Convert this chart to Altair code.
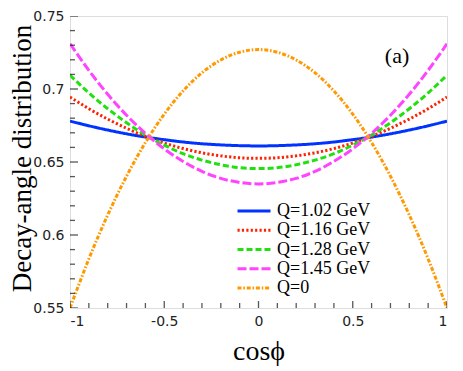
import altair as alt
import pandas as pd

# cos(phi) sample positions
cos_phi = [-1.0, -0.9, -0.8, -0.7, -0.6, -0.5, -0.4, -0.3, -0.2, -0.1, 0.0,
           0.1, 0.2, 0.3, 0.4, 0.5, 0.6, 0.7, 0.8, 0.9, 1.0]

q102 = [0.678, 0.6748, 0.6719, 0.6693, 0.6671, 0.6653, 0.6637, 0.6625, 0.6617, 0.6612, 0.661,
        0.6612, 0.6617, 0.6625, 0.6637, 0.6653, 0.6671, 0.6693, 0.6719, 0.6748, 0.678]
q116 = [0.6945, 0.6865, 0.6794, 0.6731, 0.6676, 0.6630, 0.6592, 0.6563, 0.6542, 0.6529, 0.6525,
        0.6529, 0.6542, 0.6563, 0.6592, 0.6630, 0.6676, 0.6731, 0.6794, 0.6865, 0.6945]
q128 = [0.7095, 0.6973, 0.6865, 0.6769, 0.6685, 0.6615, 0.6557, 0.6513, 0.6481, 0.6461, 0.6455,
        0.6461, 0.6481, 0.6513, 0.6557, 0.6615, 0.6685, 0.6769, 0.6865, 0.6973, 0.7095]
q145 = [0.731, 0.7128, 0.6964, 0.6820, 0.6696, 0.6590, 0.6504, 0.6436, 0.6388, 0.6360, 0.635,
        0.6360, 0.6388, 0.6436, 0.6504, 0.6590, 0.6696, 0.6820, 0.6964, 0.7128, 0.731]
q0 = [0.550, 0.5836, 0.6137, 0.6403, 0.6633, 0.6828, 0.6987, 0.7111, 0.7199, 0.7252, 0.727,
      0.7252, 0.7199, 0.7111, 0.6987, 0.6828, 0.6633, 0.6403, 0.6137, 0.5836, 0.550]

series_names = ["Q=1.02 GeV", "Q=1.16 GeV", "Q=1.28 GeV", "Q=1.45 GeV", "Q=0"]
series_values = [q102, q116, q128, q145, q0]
series_colors = ["#0033ff", "#ff2200", "#22e010", "#ff44ff", "#ff9900"]
series_dashes = [[1, 0], [2.2, 2.2], [6, 3], [9, 3], [4, 1.8, 1.6, 1.8]]

y_labels = [0.55, 0.6, 0.65, 0.7, 0.75]
x_labels = [-1, -0.5, 0, 0.5, 1]
y_minor = [0.56, 0.57, 0.58, 0.59, 0.61, 0.62, 0.63, 0.64, 0.66, 0.67, 0.68, 0.69,
           0.71, 0.72, 0.73, 0.74]
x_minor = [-0.9, -0.8, -0.7, -0.6, -0.4, -0.3, -0.2, -0.1, 0.1, 0.2, 0.3, 0.4,
           0.6, 0.7, 0.8, 0.9]

rows = []
for name, vals in zip(series_names, series_values):
    for xv, yv in zip(cos_phi, vals):
        rows.append({"x": xv, "y": yv, "series": name})
lines_df = pd.DataFrame(rows)

xs = alt.Scale(domain=[-1, 1], nice=False, zero=False)
ys = alt.Scale(domain=[0.55, 0.75], nice=False, zero=False)

x_axis = alt.Axis(values=x_labels, title="cosϕ", labelExpr="'' + datum.value",
                  ticks=False, domain=False, grid=False, labelPadding=6,
                  labelFont="DejaVu Sans", labelFontSize=14, labelColor="#222",
                  titleFont="Liberation Serif", titleFontSize=28, titleFontWeight="normal",
                  titleColor="black", titleBaseline="alphabetic", titleY=51)
y_axis = alt.Axis(values=y_labels, title="Decay-angle distribution",
                  labelExpr="'' + datum.value",
                  ticks=False, domain=False, grid=False, labelPadding=6,
                  labelFont="DejaVu Sans", labelFontSize=14, labelColor="#222",
                  titleFont="Liberation Serif", titleFontSize=27, titleFontWeight="normal",
                  titleColor="black", titleBaseline="alphabetic", titleAngle=270,
                  titleX=-40, titleY=142)

legend = alt.Legend(title=None, orient="none", legendX=166, legendY=186,
                    symbolType="stroke", symbolSize=1089, symbolStrokeWidth=3,
                    clipHeight=18,
                    labelFont="Liberation Serif", labelFontSize=18, labelColor="black",
                    labelOffset=5, rowPadding=1.25, padding=0)

lines = alt.Chart(lines_df).mark_line(strokeWidth=3, interpolate="natural", clip=True).encode(
    x=alt.X("x:Q", scale=xs, axis=x_axis),
    y=alt.Y("y:Q", scale=ys, axis=y_axis),
    color=alt.Color("series:N", scale=alt.Scale(domain=series_names, range=series_colors),
                    legend=legend, sort=series_names),
    strokeDash=alt.StrokeDash("series:N", scale=alt.Scale(domain=series_names, range=series_dashes),
                              legend=legend, sort=series_names),
)

ymaj_df = pd.DataFrame({"y": y_labels, "x": [-1] * len(y_labels)})
ymin_df = pd.DataFrame({"y": y_minor, "x": [-1] * len(y_minor)})
xmaj_df = pd.DataFrame({"x": x_labels, "y": [0.55] * len(x_labels)})
xmin_df = pd.DataFrame({"x": x_minor, "y": [0.55] * len(x_minor)})

def ticks(df, orient, size):
    return alt.Chart(df).mark_tick(orient=orient, size=size, thickness=1.3,
                                   color="#111", clip=True).encode(
        x=alt.X("x:Q", scale=xs, axis=x_axis),
        y=alt.Y("y:Q", scale=ys, axis=y_axis),
    )

ann_df = pd.DataFrame({"x": [0.735], "y": [0.7225], "label": ["(a)"]})
ann = alt.Chart(ann_df).mark_text(font="Liberation Serif", fontSize=22, color="black").encode(
    x=alt.X("x:Q", scale=xs, axis=x_axis),
    y=alt.Y("y:Q", scale=ys, axis=y_axis),
    text="label:N",
)

chart = alt.layer(
    lines,
    ticks(ymaj_df, "horizontal", 16),
    ticks(ymin_df, "horizontal", 10),
    ticks(xmaj_df, "vertical", 14),
    ticks(xmin_df, "vertical", 10),
    ann,
).properties(
    width=377, height=292,
    autosize=alt.AutoSizeParams(type="none"),
    padding={"left": 62, "top": 8, "right": 8, "bottom": 58},
).configure_view(
    stroke="black", strokeWidth=2
).configure(background="white")

chart.save("out.html", embed_options={"renderer": "svg", "actions": False})
